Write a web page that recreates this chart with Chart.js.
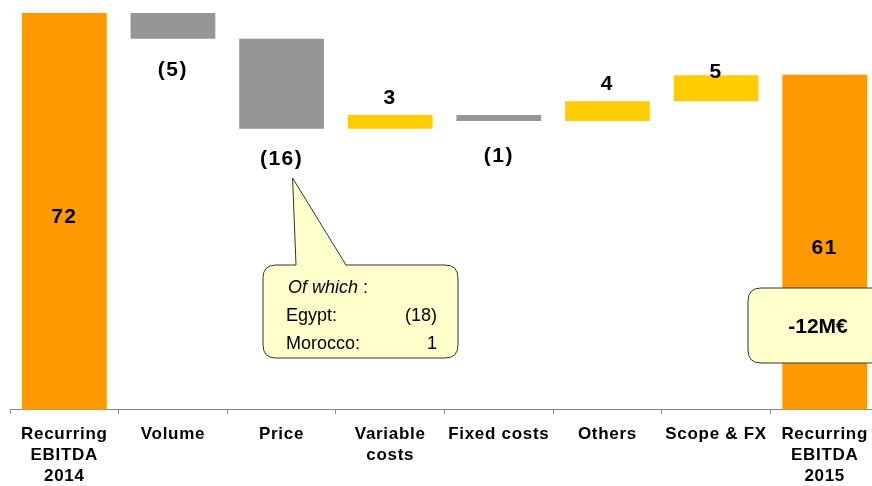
<!DOCTYPE html>
<html>
<head>
<meta charset="utf-8">
<script src="https://cdn.jsdelivr.net/npm/chart.js@4"></script>
<style>
  html, body { margin: 0; padding: 0; background: #fff; overflow: hidden; }
  #wrap { width: 879px; height: 497px; }
</style>
</head>
<body>
<div id="wrap"><canvas id="bridge"></canvas></div>
<script>
// categories of the EBITDA bridge (one line per array entry)
const categories = [
  ["Recurring", "EBITDA", "2014"],
  "Volume",
  "Price",
  ["Variable", "costs"],
  "Fixed costs",
  "Others",
  "Scope & FX",
  ["Recurring", "EBITDA", "2015"]
];

// start and end totals, and the steps between them
const startValue = 72;
const steps = [-4.7, -16.3, 2.5, -1.1, 3.6, 4.7];
const endValue = 60.8;

// labels printed on the chart
const valueLabels = ["72", "(5)", "(16)", "3", "(1)", "4", "5", "61"];
const calloutLines = [["Of which", ""], ["Egypt:", "(18)"], ["Morocco:", "1"]];
const totalLabel = "-12M€";

const ORANGE = "#FF9900";
const GREY = "#969696";
const YELLOW = "#FFCC00";

// build floating bars [from, to]
let bars = [[0, startValue]];
let run = startValue;
steps.forEach(s => {
  bars.push([run, run + s]);
  run += s;
});
bars.push([0, endValue]);

const colors = bars.map((b, i) => {
  if (i === 0 || i === bars.length - 1) return ORANGE;
  return b[1] < b[0] ? GREY : YELLOW;
});

// little tweaks so the labels sit where they do on the slide
const labelShift = [0, 31, 31, -17, 35, -17, -3, 0];

const roundRect = (ctx, x, y, w, h, r) => {
  ctx.beginPath();
  ctx.moveTo(x + r, y);
  ctx.lineTo(x + w - r, y);
  ctx.quadraticCurveTo(x + w, y, x + w, y + r);
  ctx.lineTo(x + w, y + h - r);
  ctx.quadraticCurveTo(x + w, y + h, x + w - r, y + h);
  ctx.lineTo(x + r, y + h);
  ctx.quadraticCurveTo(x, y + h, x, y + h - r);
  ctx.lineTo(x, y + r);
  ctx.quadraticCurveTo(x, y, x + r, y);
  ctx.closePath();
};

const spacingPlugin = {
  id: "spacing",
  beforeLayout(chart) { chart.ctx.letterSpacing = "0.7px"; },
  beforeDraw(chart) { chart.ctx.letterSpacing = "0.7px"; }
};

const labelsPlugin = {
  id: "valueLabels",
  afterDatasetsDraw(chart) {
    const ctx = chart.ctx;
    const meta = chart.getDatasetMeta(0);
    const yScale = chart.scales.y;
    ctx.save();
    ctx.letterSpacing = "1.5px";
    ctx.fillStyle = "#000";
    ctx.textAlign = "center";
    ctx.textBaseline = "middle";
    ctx.font = "bold 21px 'Liberation Sans', Arial, sans-serif";
    meta.data.forEach((bar, i) => {
      const [a, b] = bars[i];
      let y;
      if (i === 0 || i === bars.length - 1) {
        y = (yScale.getPixelForValue(a) + yScale.getPixelForValue(b)) / 2 + 6;
      } else {
        y = yScale.getPixelForValue(b) + labelShift[i];
      }
      ctx.fillText(valueLabels[i], bar.x, y);
    });
    ctx.restore();
  },
  afterDraw(chart) {
    const ctx = chart.ctx;
    const x = chart.scales.x;
    ctx.save();
    ctx.letterSpacing = "0px";

    // callout for the price bar
    const px = x.getPixelForValue(2);
    const bx = 263, by = 265, bw = 195, bh = 93;
    ctx.fillStyle = "#FFFFCC";
    ctx.strokeStyle = "#333";
    ctx.lineWidth = 1;
    roundRect(ctx, bx, by, bw, bh, 13);
    ctx.fill();
    ctx.stroke();
    // pointer
    ctx.beginPath();
    ctx.moveTo(296, by + 1);
    ctx.lineTo(px + 11, 178);
    ctx.lineTo(346, by + 1);
    ctx.closePath();
    ctx.fill();
    ctx.beginPath();
    ctx.moveTo(296, by);
    ctx.lineTo(px + 11, 178);
    ctx.lineTo(346, by);
    ctx.stroke();

    ctx.fillStyle = "#000";
    ctx.textBaseline = "middle";
    ctx.textAlign = "left";
    ctx.font = "italic 18px 'Liberation Sans', Arial, sans-serif";
    ctx.fillText(calloutLines[0][0], 288, 288);
    const w = ctx.measureText(calloutLines[0][0]).width;
    ctx.font = "18px 'Liberation Sans', Arial, sans-serif";
    ctx.fillText(" :", 288 + w, 288);
    for (let i = 1; i < calloutLines.length; i++) {
      const ly = 288 + i * 28;
      ctx.textAlign = "left";
      ctx.fillText(calloutLines[i][0], 286, ly);
      ctx.textAlign = "right";
      ctx.fillText(calloutLines[i][1], 437, ly);
    }

    // total change box
    ctx.fillStyle = "#FFFFCC";
    ctx.strokeStyle = "#333";
    roundRect(ctx, 748, 288, 160, 75, 13);
    ctx.fill();
    ctx.stroke();
    ctx.fillStyle = "#000";
    ctx.textAlign = "center";
    ctx.font = "bold 21px 'Liberation Sans', Arial, sans-serif";
    ctx.fillText(totalLabel, 818, 327);
    ctx.restore();
  }
};

const data = {
  labels: categories,
  datasets: [{
    data: bars,
    backgroundColor: colors,
    borderWidth: 0,
    barPercentage: 0.78,
    categoryPercentage: 1
  }]
};

const config = {
  type: "bar",
  data: data,
  options: {
    responsive: true,
    maintainAspectRatio: false,
    animation: false,
    layout: { padding: { left: 10, right: 0, top: 0, bottom: 0 } },
    plugins: {
      legend: { display: false },
      tooltip: { enabled: false }
    },
    scales: {
      x: {
        border: { color: "#888", width: 1 },
        grid: { display: true, drawOnChartArea: false, color: "#888", tickLength: 4, offset: true },
        ticks: {
          color: "#000",
          padding: 10,
          maxRotation: 0,
          autoSkip: false,
          font: { family: "'Liberation Sans', Arial, sans-serif", size: 17, weight: "bold", lineHeight: 1.24 }
        }
      },
      y: {
        display: false,
        min: 0,
        max: 74.35
      }
    }
  },
  plugins: [spacingPlugin, labelsPlugin]
};

const myChart = new Chart(document.getElementById("bridge"), config);
</script>
</body>
</html>
